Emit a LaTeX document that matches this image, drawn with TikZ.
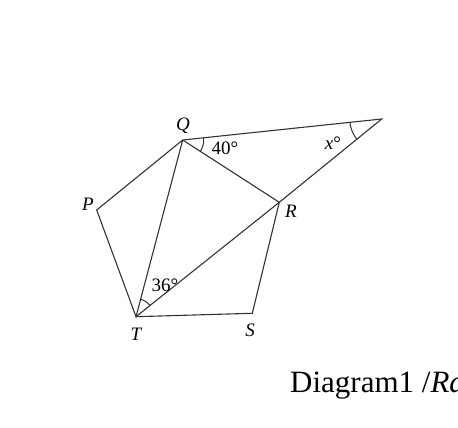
\documentclass[tikz,border=0pt]{standalone}
\usepackage{fontspec}
\setmainfont{Liberation Serif}
\usetikzlibrary{angles,quotes}
\begin{document}
\begin{tikzpicture}[x=1pt,y=1pt,
  edge/.style={line width=1.1pt,draw=black!80},
  vlabel/.style={font=\fontsize{19}{19}\selectfont\itshape,inner sep=0pt},
  alabel/.style={font=\fontsize{19}{19}\selectfont,inner sep=0pt},
  angarc/.style={draw=black!80,line width=1pt}]
\useasboundingbox (0,0) rectangle (458,428);
\clip (0,0) rectangle (458,428);
\coordinate (Q) at (182.7,288);
\coordinate (F) at (381.7,309);
\coordinate (P) at (96.7,218);
\coordinate (R) at (279.3,225.7);
\coordinate (T) at (136,111.3);
\coordinate (S) at (252.3,114.7);
\draw[edge] (Q) -- (F) -- (R) -- (T);
\draw[edge] (Q) -- (P) -- (T) -- (Q);
\draw[edge] (Q) -- (R) -- (S) -- (T);
\pic[angarc, angle radius=21pt] {angle = R--Q--F};
\pic[angarc, angle radius=32pt] {angle = Q--F--R};
\pic[angarc, angle radius=18pt] {angle = R--T--Q};
\node[vlabel] (lQ) at (183,302) {Q};
\node[vlabel] (lP) at (88,224) {P};
\node[vlabel] (lR) at (291,217) {R};
\node[vlabel] (lT) at (136,94) {T};
\node[vlabel] (lS) at (250,98) {S};
\node[alabel] (a40) at (225,280) {40°};
\node[alabel] (ax) at (333,285) {\textit{x}°};
\node[alabel] (a36) at (165,142.5) {36°};
\node[anchor=base west,inner sep=0pt,font=\fontsize{31}{31}\selectfont] (cap) at (290,35) {Diagram1 /\textit{Ra}};
\end{tikzpicture}
\end{document}
